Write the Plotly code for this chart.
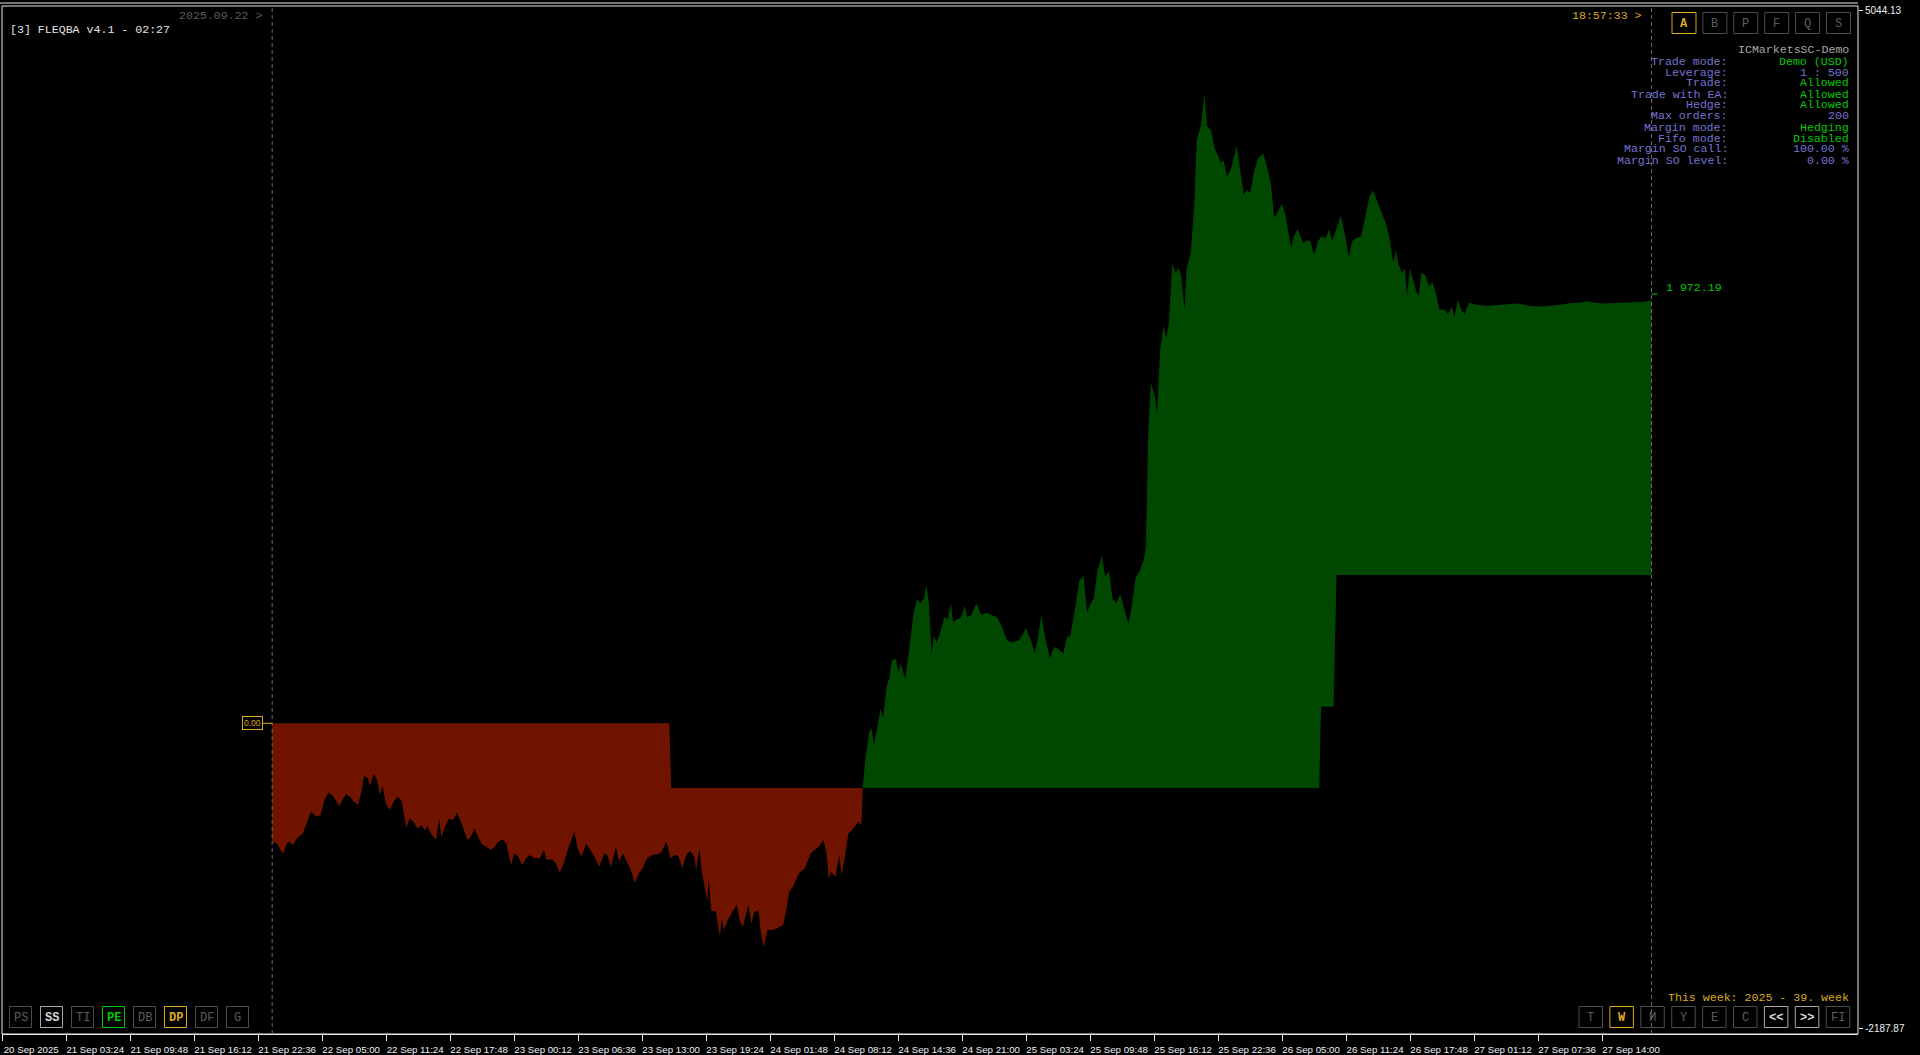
import numpy as np
import plotly.graph_objects as go

# ---------------- data ----------------
# x positions are chart-hours since 22 Sep 2025 00:00 (bar-time, as on the MT5 time scale)
tick_hours = [-27.0, -20.6, -14.2, -7.8, -1.4, 5.0, 11.4, 17.8, 24.2, 30.6, 37.0, 43.4, 49.8,
              56.2, 62.6, 69.0, 75.4, 81.8, 88.2, 94.6, 101.0, 107.4, 113.8, 120.2, 126.6, 133.0]
tick_labels = ["20 Sep 2025", "21 Sep 03:24", "21 Sep 09:48", "21 Sep 16:12", "21 Sep 22:36",
               "22 Sep 05:00", "22 Sep 11:24", "22 Sep 17:48", "23 Sep 00:12", "23 Sep 06:36",
               "23 Sep 13:00", "23 Sep 19:24", "24 Sep 01:48", "24 Sep 08:12", "24 Sep 14:36",
               "24 Sep 21:00", "25 Sep 03:24", "25 Sep 09:48", "25 Sep 16:12", "25 Sep 22:36",
               "26 Sep 05:00", "26 Sep 11:24", "26 Sep 17:48", "27 Sep 01:12", "27 Sep 07:36",
               "27 Sep 14:00"]

equity_hours = [
    0.00, 0.49, 1.08, 1.47, 1.75, 2.07, 2.46, 3.06, 3.45, 3.85, 4.44, 4.84, 5.23, 5.63, 6.02, 6.42,
    6.73, 7.01, 7.41, 7.80, 8.20, 8.59, 8.99, 9.19, 9.58, 9.78, 10.17, 10.49, 10.77, 11.04, 11.36,
    11.76, 12.15, 12.55, 12.94, 13.22, 13.42, 13.73, 14.13, 14.52, 14.92, 15.31, 15.51, 15.91,
    16.38, 16.70, 16.90, 17.29, 17.69, 18.08, 18.48, 18.87, 19.27, 19.54, 19.86, 20.26, 20.65,
    21.05, 21.44, 21.84, 22.23, 22.63, 23.02, 23.42, 23.89, 24.21, 24.61, 25.00, 25.40, 25.79,
    26.19, 26.78, 27.18, 27.45, 27.97, 28.36, 28.76, 29.15, 29.67, 30.22, 30.54, 30.93, 31.41,
    31.72, 32.32, 32.71, 33.23, 33.50, 33.90, 34.37, 34.69, 35.08, 35.48, 35.87, 36.27, 36.67,
    37.06, 37.46, 38.05, 38.84, 39.43, 39.83, 40.22, 40.62, 41.01, 41.41, 41.81, 42.20, 42.40,
    42.72, 42.99, 43.27, 43.51, 43.66, 43.90, 44.38, 44.77, 44.97, 45.17, 45.56, 45.96, 46.47,
    46.75, 47.06, 47.34, 47.62, 47.93, 48.25, 48.64, 48.92, 49.20, 49.52, 50.11, 50.70, 51.10,
    51.41, 51.69, 52.09, 52.68, 53.27, 53.87, 54.26, 54.66, 55.13, 55.45, 55.64, 55.92, 56.32,
    56.71, 56.95, 57.23, 57.62, 58.02, 58.61, 58.93,
    59.06, 59.31, 59.72, 59.92, 60.18, 60.48, 60.84, 61.10, 61.45, 61.76, 61.96, 62.37, 62.63,
    62.88, 63.29, 63.65, 63.90, 64.16, 64.51, 64.82, 65.18, 65.43, 65.69, 65.94, 66.20, 66.45,
    66.86, 67.22, 67.58, 67.88, 68.09, 68.49, 68.90, 69.26, 69.51, 69.92, 70.43, 70.94, 71.45,
    71.96, 72.47, 72.98, 73.49, 74.00, 74.72, 75.38, 75.89, 76.25, 76.55, 76.91, 77.27, 77.78,
    78.19, 78.70, 79.11, 79.46, 79.82, 80.23, 80.74, 81.15, 81.50, 81.86, 82.17, 82.52, 82.98,
    83.29, 83.70, 84.05, 84.41, 84.82, 85.23, 85.64, 85.94, 86.35, 86.76, 87.17, 87.37, 87.63,
    87.88, 88.29, 88.49, 88.80, 89.16, 89.41, 89.67, 90.02, 90.33, 90.69, 90.94, 91.25, 91.45,
    91.86, 92.22, 92.47, 92.88, 93.24, 93.49, 93.90, 94.26, 94.62, 94.82, 95.13, 95.53, 95.94,
    96.45, 96.81, 97.17, 97.47, 97.83, 98.19, 98.60, 99.11, 99.46, 99.87, 100.23, 100.64, 100.94,
    101.30, 101.66, 101.91, 102.17, 102.58, 103.09, 103.44, 103.80, 104.21, 104.62, 104.97,
    105.33, 105.74, 105.99, 106.35, 106.86, 107.27, 107.68, 108.03, 108.39, 108.90, 109.31,
    109.72, 110.08, 110.43, 110.84, 111.35, 111.76, 112.12, 112.37, 112.63, 112.98, 113.29,
    113.49, 113.80, 114.16, 114.41, 114.67, 114.92, 115.33, 115.69, 116.04, 116.45, 116.71,
    117.22, 117.57, 117.98, 118.24, 118.60, 118.90, 119.26, 119.67, 120.53, 121.55, 122.58,
    123.60, 124.62, 125.64, 126.66, 127.68, 128.70, 129.72, 130.74, 131.50, 132.27, 133.29,
    134.31, 135.33, 136.35, 137.37, 137.95]
equity_usd = [
    -544, -552, -601, -552, -544, -559, -529, -506, -460, -406, -429, -421, -352, -319, -329, -360,
    -380, -352, -326, -337, -360, -375, -299, -242, -253, -288, -233, -261, -329, -288, -368,
    -398, -360, -337, -356, -429, -483, -437, -452, -483, -467, -493, -472, -509,
    -536, -437, -521, -475, -437, -444, -411, -452, -498, -536, -521, -483, -529,
    -559, -567, -582, -567, -544, -533, -552, -651, -597, -613, -651, -620, -605,
    -620, -620, -582, -628, -625, -643, -686, -643, -567, -498, -574, -613, -552,
    -574, -620, -659, -597, -605, -659, -567, -636, -597, -636, -674, -732, -689,
    -666, -620, -605, -597, -544, -620, -605, -610, -666, -605, -585, -613, -674,
    -574, -689, -758, -819, -705, -861, -865, -980, -896, -950, -904, -870, -835,
    -904, -937, -888, -835, -919, -865, -861, -980, -1026, -950, -950, -934, -927,
    -858, -774, -751, -689, -666, -597, -582, -567, -536, -597, -712, -682, -705,
    -605, -697, -628, -506, -490, -452, -467,
    -299, -167, -40, -19, -99, -29, 66, 23, 171, 213, 287, 298, 234,
    277, 203, 319, 424, 509, 572, 551, 572, 635, 551, 319, 403, 371,
    424, 487, 477, 551, 466, 477, 487, 540, 487, 498, 551, 498, 509,
    498, 487, 445, 382, 371, 382, 435, 382, 319, 382, 498, 403, 298,
    350, 340, 319, 393, 403, 509, 656, 677, 509, 551, 572, 698, 772,
    677, 698, 572, 551, 593, 530, 456, 530, 667, 698, 751, 804, 1352,
    1563, 1500, 1416, 1711, 1827, 1764, 1837, 2112, 2069, 2091, 2048, 1901, 2091,
    2154, 2386, 2681, 2744, 2892, 2744, 2723, 2639, 2607, 2576, 2586, 2512, 2555,
    2654, 2533, 2428, 2449, 2439, 2533, 2597, 2618, 2565, 2481, 2323, 2354, 2386,
    2344, 2238, 2185, 2238, 2270, 2207, 2217, 2217, 2154, 2217, 2238,
    2228, 2270, 2217, 2259, 2333, 2249, 2143, 2217, 2228, 2238, 2323,
    2417, 2449, 2407, 2365, 2301, 2228, 2112, 2175, 2112, 2069, 2091,
    1964, 2091, 2027, 1985, 1964, 2069, 2059, 2006, 2027, 1964, 1901,
    1901, 1880, 1911, 1869, 1947, 1901, 1880, 1932, 1922, 1918, 1922,
    1924, 1928, 1918, 1915, 1918, 1922, 1930, 1932, 1939, 1932, 1928,
    1930, 1930, 1932, 1937, 1945]

balance_hours = [0.00, 39.72, 39.90, 104.72, 104.90, 106.15, 106.45, 137.95]
balance_usd = [0, 0, -297, -297, 76, 76, 681, 681]

week_start_hour = 0.0
current_hour = 137.95
last_equity_label = 1972.19
start_label = 0.00
price_scale_ticks = [5044.13, -2187.87]

broker_name = "ICMarketsSC-Demo"
info_labels = ["Trade mode:", "Leverage:", "Trade:", "Trade with EA:", "Hedge:", "Max orders:",
               "Margin mode:", "Fifo mode:", "Margin SO call:", "Margin SO level:"]
info_values = ["Demo (USD)", "1 : 500", "Allowed", "Allowed", "Allowed", "200", "Hedging",
               "Disabled", "100.00 %", "0.00 %"]
info_value_kind = ["g", "b", "g", "g", "g", "b", "g", "g", "b", "b"]

top_buttons = ["A", "B", "P", "F", "Q", "S"]
top_button_state = ["gold", "off", "off", "off", "off", "off"]
left_buttons = ["PS", "SS", "TI", "PE", "DB", "DP", "DF", "G"]
left_button_state = ["off", "light", "off", "green", "off", "gold", "off", "off"]
right_buttons = ["T", "W", "M", "Y", "E", "C", "<<", ">>", "FI"]
right_button_state = ["off", "gold", "off", "off", "off", "off", "light", "light", "off"]

# ---------------- styling / geometry ----------------
FIG_W, FIG_H = 1920, 1055
PL, PR, PT, PB = 2, 1858, 6, 1034          # plot area in pixels
X0_PX, PX_PER_H = 272.0, 10.0              # pixel of hour 0, pixels per chart-hour
Y0_PX, USD_PER_PX = 723.3, 4.594           # pixel of 0 USD, USD per pixel

GOLD = "#dcaa22"
GREEN = "#00c800"
BLUE = "#7474d0"
GRAY_BTN = "#4c4c4c"
GRAY_TXT = "#5e5e5e"
MONO = "Liberation Mono"
SANS = "Liberation Sans"
RED_FILL = "#701400"
GREEN_FILL = "#004800"
MONO_SIZE = 11.6

x_range = [(PL - X0_PX) / PX_PER_H - 0.02, (PR - X0_PX) / PX_PER_H]
y_range = [(Y0_PX - PB) * USD_PER_PX, (Y0_PX - PT) * USD_PER_PX]
# price-scale axis (labels of the underlying symbol at top/bottom of the window)
p_top_px, p_bot_px = 10.0, 1028.0
p_per_px = (price_scale_ticks[0] - price_scale_ticks[1]) / (p_bot_px - p_top_px)
y2_range = [price_scale_ticks[1] - (PB - p_bot_px) * p_per_px,
            price_scale_ticks[0] + (p_top_px - PT) * p_per_px]


def fx(px):
    return (px - PL) / (PR - PL)


def fy(py):
    return (PB - py) / (PB - PT)


# ---------------- fill between balance and equity ----------------
eh = np.array(equity_hours, float)
ev = np.array(equity_usd, float)
bh = np.array(balance_hours, float)
bv = np.array(balance_usd, float)
xs = np.union1d(eh, bh)
eq = np.interp(xs, eh, ev)
bal = np.interp(xs, bh, bv)
X, E, B = [xs[0]], [eq[0]], [bal[0]]
for i in range(1, len(xs)):
    d0 = eq[i - 1] - bal[i - 1]
    d1 = eq[i] - bal[i]
    if d0 * d1 < 0:
        t = d0 / (d0 - d1)
        xc = xs[i - 1] + t * (xs[i] - xs[i - 1])
        yc = bal[i - 1] + t * (bal[i] - bal[i - 1])
        X.append(xc); E.append(yc); B.append(yc)
    X.append(xs[i]); E.append(eq[i]); B.append(bal[i])
X, E, B = np.array(X), np.array(E), np.array(B)
lower = np.minimum(E, B)
upper = np.maximum(E, B)

fig = go.Figure()
fig.add_trace(go.Scatter(x=X, y=B, mode="lines", line=dict(width=0), hoverinfo="skip",
                         showlegend=False))
fig.add_trace(go.Scatter(x=X, y=lower, mode="lines", line=dict(width=0), fill="tonexty",
                         fillcolor=RED_FILL, hoverinfo="skip", showlegend=False))
fig.add_trace(go.Scatter(x=X, y=B, mode="lines", line=dict(width=0), hoverinfo="skip",
                         showlegend=False))
fig.add_trace(go.Scatter(x=X, y=upper, mode="lines", line=dict(width=0), fill="tonexty",
                         fillcolor=GREEN_FILL, hoverinfo="skip", showlegend=False))
# invisible carrier so the right-hand price scale is drawn
fig.add_trace(go.Scatter(x=[current_hour, current_hour], y=price_scale_ticks, yaxis="y2",
                         mode="markers", marker=dict(size=1, opacity=0), hoverinfo="skip",
                         showlegend=False))

shapes = []
annotations = []

# frame
shapes.append(dict(type="rect", xref="paper", yref="paper", x0=0, x1=1, y0=0, y1=1,
                   line=dict(color="#e8e8e8", width=1), layer="above"))
shapes.append(dict(type="line", xref="paper", yref="paper", x0=fx(0), x1=1, y0=fy(3), y1=fy(3),
                   line=dict(color="#e8e8e8", width=1)))
# vertical dashed markers: week start and current time
for h in (week_start_hour, current_hour):
    shapes.append(dict(type="line", xref="x", yref="paper", x0=h, x1=h, y0=0, y1=1,
                       line=dict(color="#6a6a6a", width=1, dash="4px,3px")))
# start (0.00) marker
shapes.append(dict(type="line", xref="x", yref="y", x0=week_start_hour - 0.93, x1=week_start_hour,
                   y0=start_label, y1=start_label, line=dict(color=GOLD, width=1)))
annotations.append(dict(x=week_start_hour - 0.93, y=start_label, xref="x", yref="y",
                        xanchor="right", yanchor="middle", text=f"{start_label:.2f}",
                        showarrow=False, font=dict(family=SANS, size=8.5, color=GOLD),
                        bordercolor=GOLD, borderwidth=1, borderpad=1, bgcolor="black"))
# last equity marker
shapes.append(dict(type="line", xref="x", yref="y", x0=current_hour, x1=current_hour + 0.6,
                   y0=last_equity_label, y1=last_equity_label, line=dict(color=GREEN, width=1)))
lbl = f"{last_equity_label:,.2f}".replace(",", " ")
annotations.append(dict(x=(1664 - X0_PX) / PX_PER_H, y=last_equity_label, xref="x", yref="y",
                        xanchor="left", yanchor="middle", yshift=7, text=lbl, showarrow=False,
                        font=dict(family=MONO, size=MONO_SIZE, color=GREEN)))


def text_px(x, y, s, color, anchor="left", size=MONO_SIZE, family=MONO):
    annotations.append(dict(x=fx(x), y=fy(y), xref="paper", yref="paper", xanchor=anchor,
                            yanchor="middle", text=s, showarrow=False,
                            font=dict(family=family, size=size, color=color)))


text_px(8, 29, "[3] FLEQBA v4.1 - 02:27", "#e4e4e4")
text_px(265, 15.5, "2025.09.22 >", "#5c5c5c", anchor="right")
text_px(1644, 15.5, "18:57:33 >", GOLD, anchor="right")
text_px(1851, 50, broker_name, "#a8a8a8", anchor="right")
for i, (lab, val, kind) in enumerate(zip(info_labels, info_values, info_value_kind)):
    yy = 61 + 11 * i
    text_px(1730, yy, lab, BLUE, anchor="right")
    text_px(1851, yy, val, GREEN if kind == "g" else BLUE, anchor="right")
text_px(1851, 997.5, "This week: 2025 - 39. week", GOLD, anchor="right")

STATE = {"off": (GRAY_BTN, GRAY_TXT, False), "gold": (GOLD, GOLD, True),
         "green": (GREEN, GREEN, True), "light": ("#a8a8a8", "#d8d8d8", True)}


def buttons(names, states, x0, step, y0, w, h):
    for i, (n, s) in enumerate(zip(names, states)):
        bc, tc, bold = STATE[s]
        xa = x0 + i * step
        shapes.append(dict(type="rect", xref="paper", yref="paper", x0=fx(xa), x1=fx(xa + w),
                           y0=fy(y0 + h), y1=fy(y0), line=dict(color=bc, width=1)))
        txt = f"<b>{n}</b>" if bold else n
        text_px(xa + w / 2, y0 + h / 2 + 0.5, txt, tc, anchor="center", size=12)


buttons(top_buttons, top_button_state, 1672, 30.9, 12.5, 24, 21)
buttons(left_buttons, left_button_state, 9.5, 31, 1006.5, 22, 21)
buttons(right_buttons, right_button_state, 1579, 30.9, 1006.5, 23.5, 21)

fig.update_layout(
    width=FIG_W, height=FIG_H, autosize=False,
    margin=dict(l=PL, r=FIG_W - PR, t=PT, b=FIG_H - PB, pad=0),
    paper_bgcolor="black", plot_bgcolor="black",
    showlegend=False,
    xaxis=dict(range=x_range, showgrid=False, zeroline=False, showline=True,
               linecolor="#e8e8e8", linewidth=1, ticks="outside", ticklen=6, tickwidth=1,
               tickcolor="#e8e8e8", tickvals=tick_hours, ticktext=tick_labels, tickangle=0,
               tickfont=dict(family=SANS, size=9.7, color="#f0f0f0"), ticklabelshift=29,
               automargin=False, fixedrange=True),
    yaxis=dict(range=y_range, visible=False, showgrid=False, zeroline=False, fixedrange=True,
               automargin=False),
    yaxis2=dict(range=y2_range, overlaying="y", side="right", showgrid=False, zeroline=False,
                showline=False, ticks="outside", ticklen=4, tickwidth=1, tickcolor="#e8e8e8",
                tickvals=price_scale_ticks, ticktext=[f"{v:.2f}" for v in price_scale_ticks],
                tickfont=dict(family=SANS, size=10, color="#f0f0f0"), fixedrange=True,
                automargin=False),
    shapes=shapes,
    annotations=annotations,
)

fig.write_html("out.html", config={"displayModeBar": False},
               post_script="document.body.style.margin='0';document.body.style.overflow='hidden';")
